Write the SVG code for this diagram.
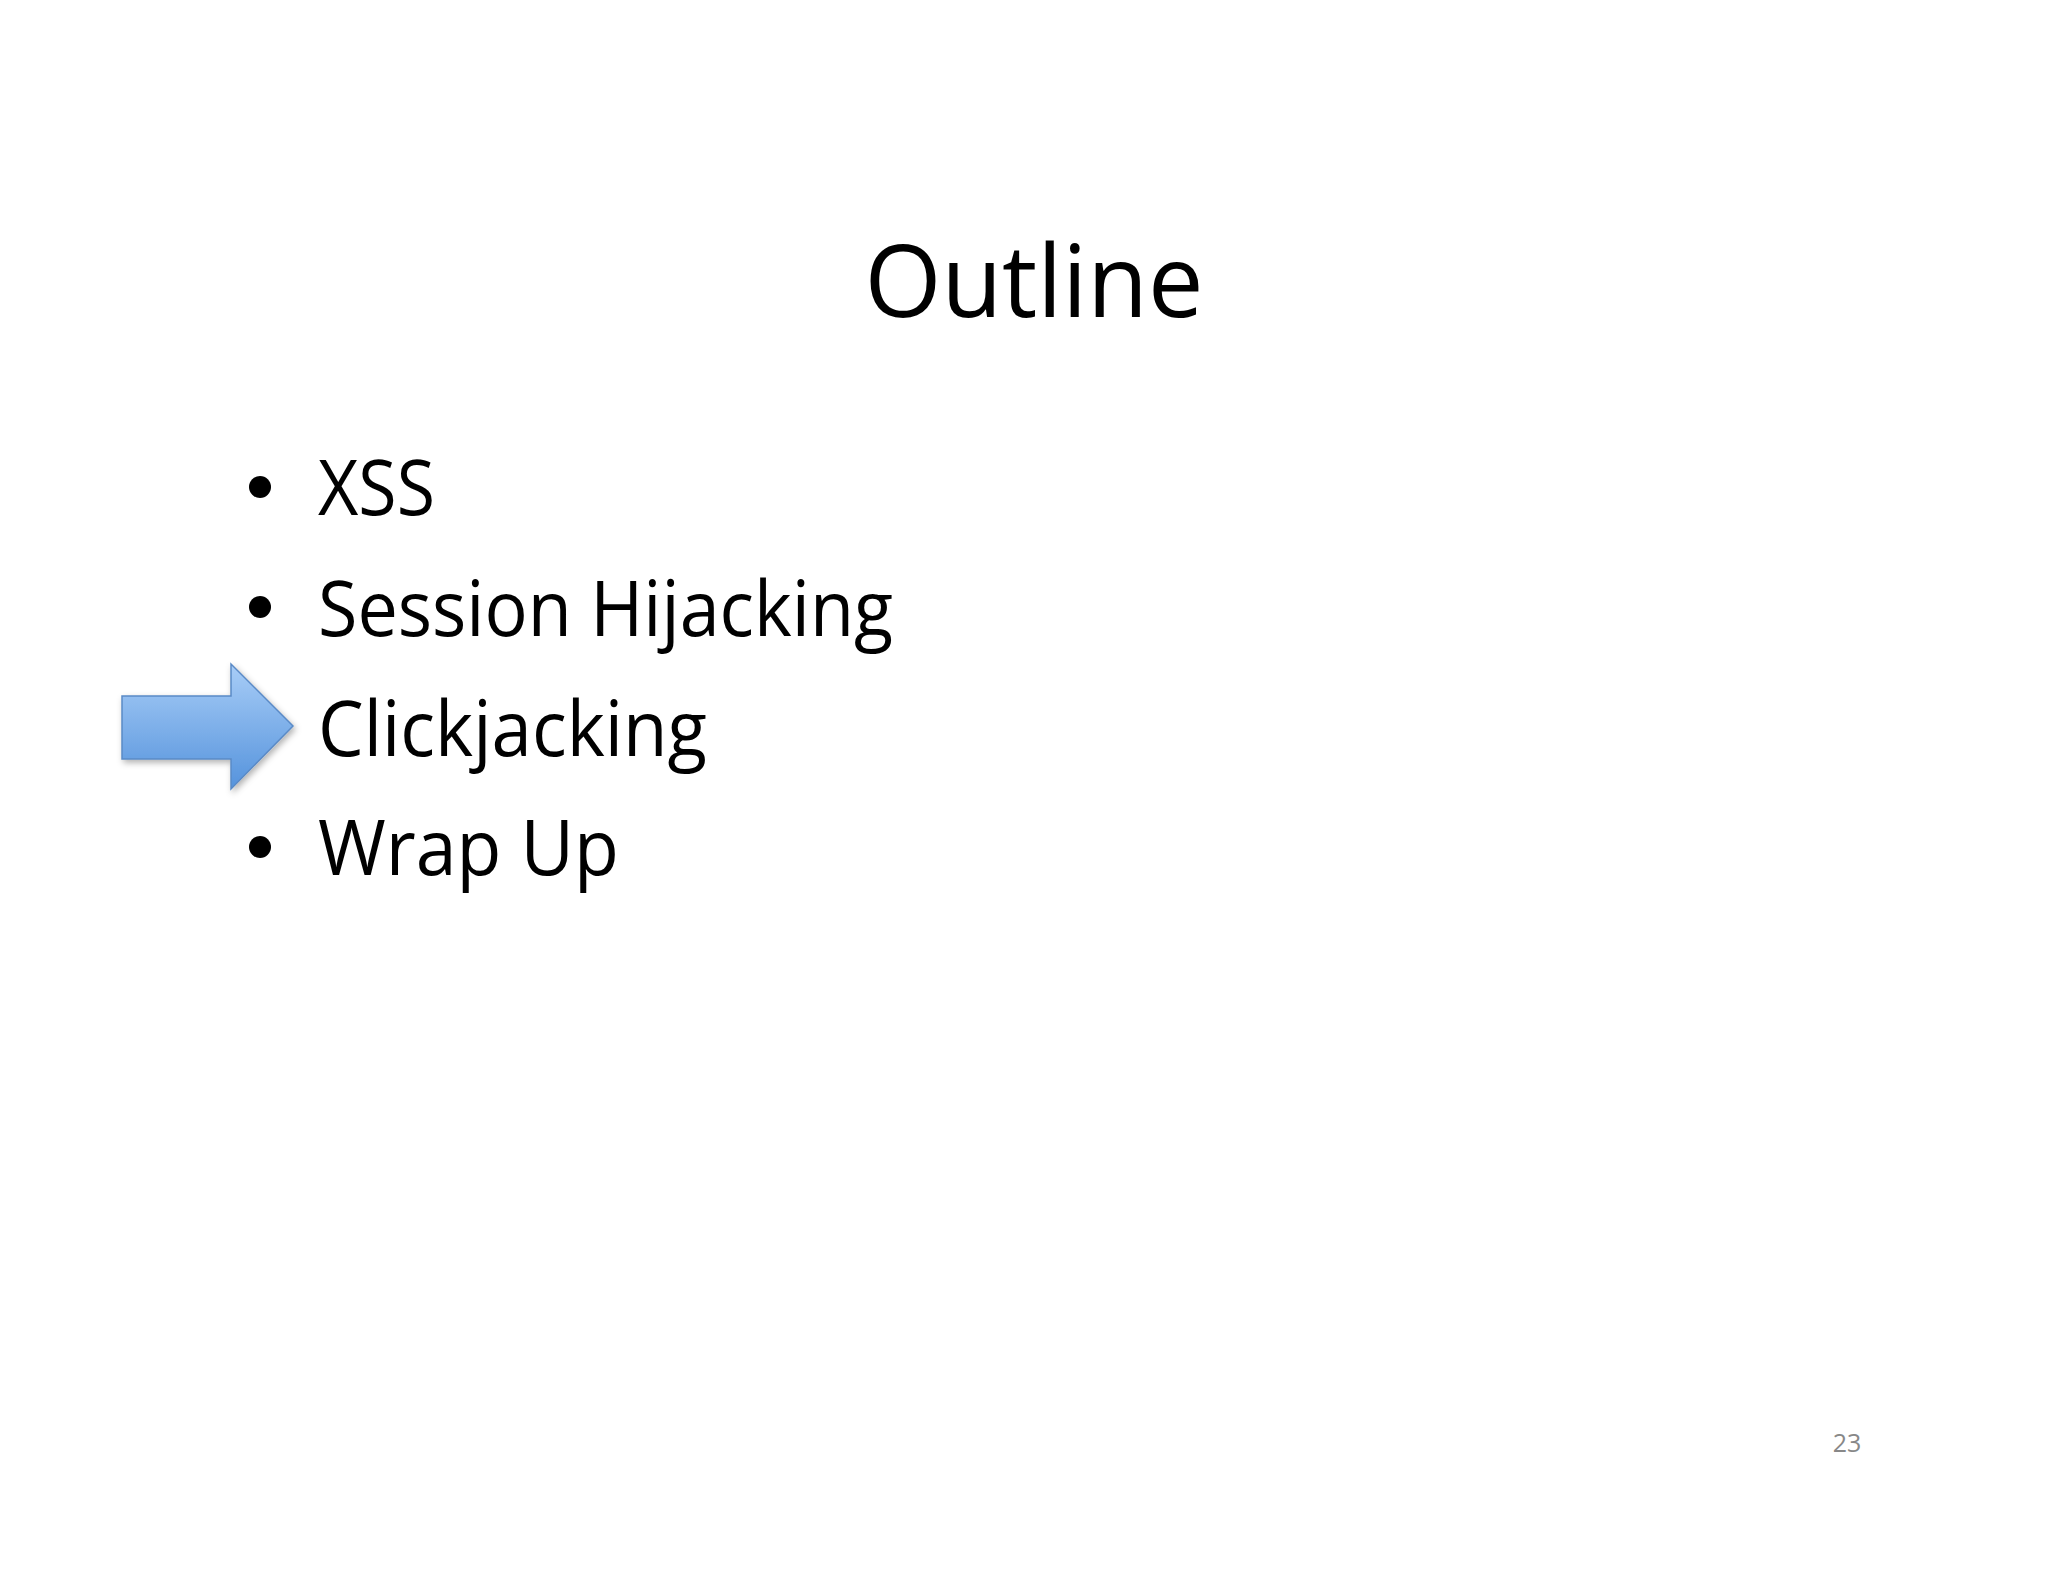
<svg xmlns="http://www.w3.org/2000/svg" width="2048" height="1582" viewBox="0 0 2048 1582">
<defs>
<style>
.t{font-family:"Open Sans","Liberation Sans",sans-serif;fill:#000}
.b{font-size:77px}
</style>
<linearGradient id="g" x1="0" y1="0" x2="0" y2="1">
<stop offset="0" stop-color="#a8cdf7"/><stop offset="1" stop-color="#5593dc"/>
</linearGradient>
<filter id="s" x="-20%" y="-20%" width="140%" height="140%"><feDropShadow dx="2" dy="3" stdDeviation="3" flood-color="#000" flood-opacity="0.3"/></filter>
</defs>
<rect width="2048" height="1582" fill="#fff"/>
<g id="title"><text class="t" x="1034" y="317" font-size="100" text-anchor="middle" textLength="339" lengthAdjust="spacingAndGlyphs">Outline</text></g>
<g id="item1"><circle cx="260" cy="487" r="11"/><text class="t b" x="318" y="515" textLength="117" lengthAdjust="spacingAndGlyphs">XSS</text></g>
<g id="item2"><circle cx="260" cy="607" r="11"/><text class="t b" x="318" y="636" textLength="575" lengthAdjust="spacingAndGlyphs">Session Hijacking</text></g>
<g id="item3"><path d="M122,696 L231,696 L231,664 L293,726 L231,789 L231,759 L122,759 Z" fill="url(#g)" stroke="#5a8ac6" stroke-width="1.5" filter="url(#s)"/><text class="t b" x="318" y="756" textLength="389" lengthAdjust="spacingAndGlyphs">Clickjacking</text></g>
<g id="item4"><circle cx="260" cy="847" r="11"/><text class="t b" x="318" y="875" textLength="301" lengthAdjust="spacingAndGlyphs">Wrap Up</text></g>
<g id="page"><text x="1847" y="1452" font-family="Open Sans,Liberation Sans,sans-serif" font-size="25" fill="#888" text-anchor="middle">23</text></g>
<g id="connectors"/>
</svg>
